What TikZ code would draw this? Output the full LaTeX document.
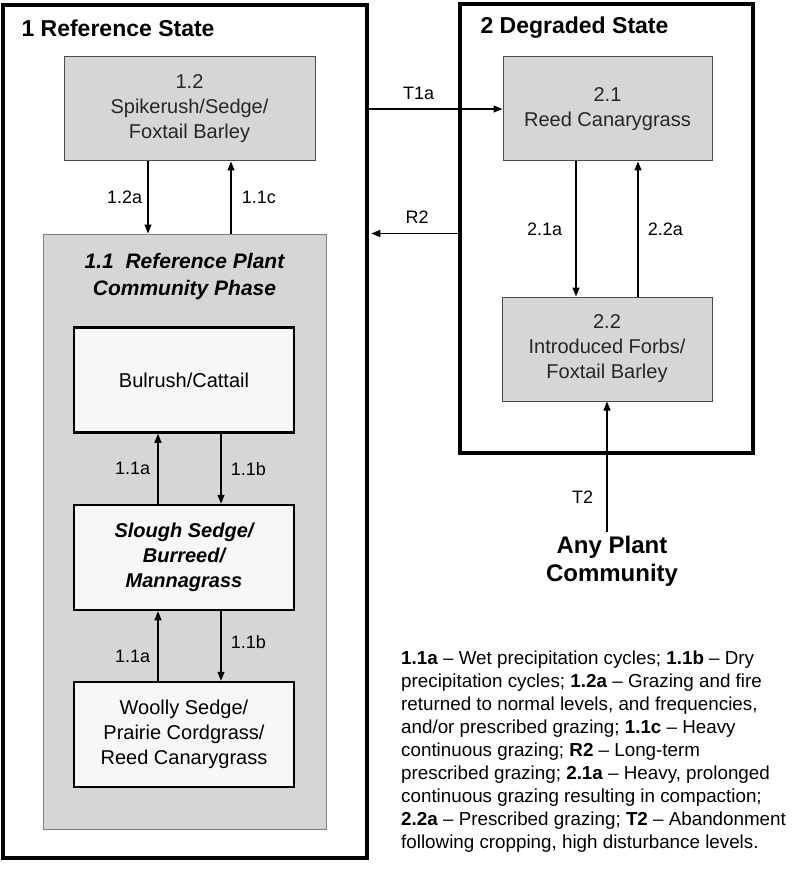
\documentclass[tikz,border=0pt]{standalone}
\usepackage{fontspec}
\setmainfont{Liberation Sans}
\usetikzlibrary{positioning, arrows.meta, calc}

\begin{document}
\begin{tikzpicture}[
    x=1pt, y=-1pt,
    >={Triangle[length=9pt,width=7pt]},
    statebox/.style={draw, line width=4.5pt, inner sep=0pt},
    statetitle/.style={font=\fontsize{23}{27}\selectfont\bfseries, anchor=west},
    phasebox/.style={draw=black!70, fill=black!16, line width=1pt, align=center,
        text=black!85, minimum height=104pt, font=\fontsize{20}{25}\selectfont},
    refbox/.style={draw=black!50, fill=black!16, line width=1pt},
    commbox/.style={draw, fill=black!3, line width=2.5pt, align=center,
        minimum width=220pt, minimum height=105pt, font=\fontsize{20}{25}\selectfont},
    trans/.style={->, line width=1.2pt, font=\fontsize{18}{22}\selectfont}
]
    \useasboundingbox[fill=white] (0,0) rectangle (800,869);

    % State boxes and their titles:
    \node[statebox, minimum width=364pt, minimum height=853pt] (st1) at (185,431.5) {};
    \node[statebox, minimum width=293pt, minimum height=449pt] (st2) at (606.5,228.5) {};
    \node[statetitle] (t1) at (18,28) {1 Reference State};
    \node[statetitle] (t2) at (477,28) {2 Degraded State};

    % Community phases of the reference state:
    \node[phasebox, minimum width=251pt] (b12) at (189.5,109) {1.2\\Spikerush/Sedge/\\Foxtail Barley};
    \node[refbox, minimum width=283pt, minimum height=595pt] (b11) at (184.5,531.5) {};
    \node[font=\fontsize{21}{27}\selectfont\bfseries\itshape, align=center] (t11) at (184.5,277)
        {1.1\ \ Reference Plant\\Community Phase};
    \node[commbox] (bul) at (184,380) {Bulrush/Cattail};
    \node[commbox, font=\fontsize{20}{25}\selectfont\bfseries\itshape] (slo) at (184,557.5)
        {Slough Sedge/\\Burreed/\\Mannagrass};
    \node[commbox] (woo) at (184,734.5) {Woolly Sedge/\\Prairie Cordgrass/\\Reed Canarygrass};

    % Community phases of the degraded state:
    \node[phasebox, minimum width=209pt] (b21) at (607.5,109) {2.1\\Reed Canarygrass};
    \node[phasebox, minimum width=210pt] (b22) at (607,349) {2.2\\Introduced Forbs/\\Foxtail Barley};
    \node[font=\fontsize{24}{28}\selectfont\bfseries, align=center] (any) at (612,561) {Any Plant\\Community};

    \path[trans]
        ([xshift=-41.5pt]b12.south) edge node[left=2pt] {1.2a} ([xshift=-36.5pt]b11.north)
        ([xshift=46.5pt]b11.north) edge node[right=7pt] {1.1c} ([xshift=41.5pt]b12.south)
        ([xshift=-26pt]slo.north) edge node[left=4pt] {1.1a} ([xshift=-26pt]bul.south)
        ([xshift=37pt]bul.south) edge node[right=6pt] {1.1b} ([xshift=37pt]slo.north)
        ([xshift=-26pt]woo.north) edge node[left=4pt, pos=0.35] {1.1a} ([xshift=-26pt]slo.south)
        ([xshift=37pt]slo.south) edge node[right=6pt, pos=0.45] {1.1b} ([xshift=37pt]woo.north)
        (st1.east |- b21.west) edge node[above=5pt, pos=0.37] {T1a} (b21.west)
        (st2.west |- b11.north) edge node[above=6pt, pos=0.47] {R2} ([xshift=2pt]st1.east |- b11.north)
        ([xshift=-31.5pt]b21.south) edge node[left=10pt] {2.1a} ([xshift=-31pt]b22.north)
        ([xshift=31pt]b22.north) edge node[right=6pt] {2.2a} ([xshift=30.5pt]b21.south)
        (b22.south |- any.north) edge node[left=10pt, pos=0.27] {T2} (b22.south);

    % Legend of the transitions:
    \node[anchor=north west, inner sep=0pt, align=left, font=\fontsize{18.8}{23}\selectfont] (key) at (401,651)
        {\textbf{1.1a} -- Wet precipitation cycles; \textbf{1.1b} -- Dry\\
         precipitation cycles; \textbf{1.2a} -- Grazing and fire\\
         returned to normal levels, and frequencies,\\
         and/or prescribed grazing; \textbf{1.1c} -- Heavy\\
         continuous grazing; \textbf{R2} -- Long-term\\
         prescribed grazing; \textbf{2.1a} -- Heavy, prolonged\\
         continuous grazing resulting in compaction;\\
         \textbf{2.2a} -- Prescribed grazing; \textbf{T2} -- Abandonment\\
         following cropping, high disturbance levels.};
\end{tikzpicture}
\end{document}
